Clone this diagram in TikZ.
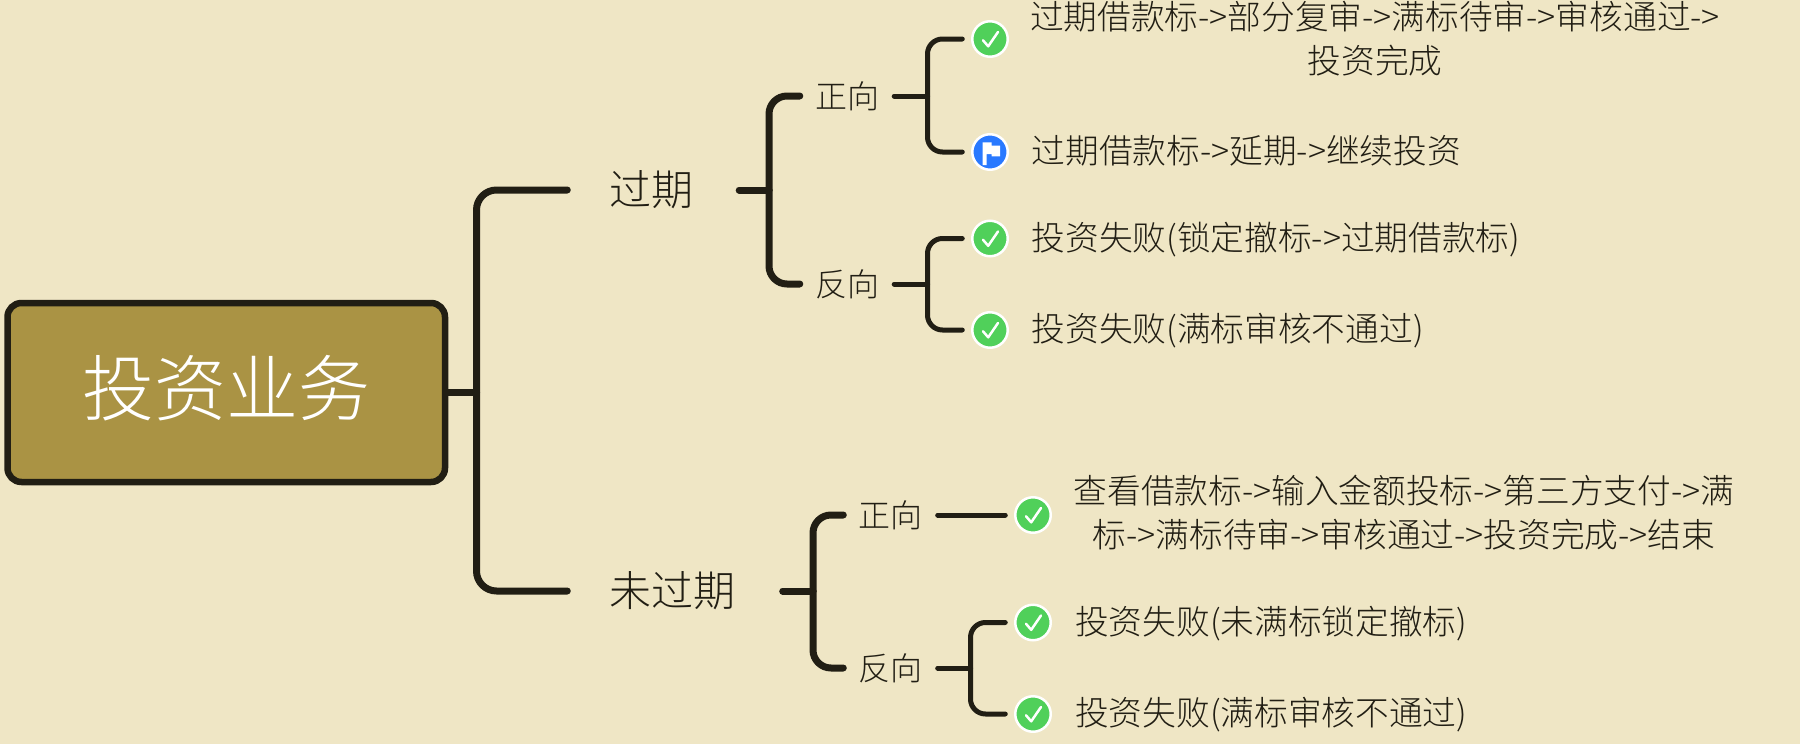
\documentclass[tikz,border=0pt]{standalone}
\usepackage{fontspec}
\setmainfont{Noto Sans CJK SC}[UprightFont=* Light]
\definecolor{paperBg}{HTML}{EFE6C5}
\definecolor{inkDark}{HTML}{211E14}
\definecolor{rootFill}{HTML}{AA9344}
\definecolor{okGreen}{HTML}{50D05A}
\definecolor{flagBlue}{HTML}{2979FF}

\begin{document}
\begin{tikzpicture}[x=1pt,y=-1pt,
        rootNode/.style = {shape=rectangle,draw=inkDark,fill=rootFill,text=white,line width=6.5pt,rounded corners=14pt,minimum width=437.5pt,minimum height=179pt,inner sep=0pt,font=\fontsize{72}{80}\selectfont},
        topicNode/.style = {text=inkDark,inner xsep=42pt,inner ysep=0pt,font=\fontsize{42}{50}\selectfont},
        sideNode/.style = {text=inkDark,inner xsep=15pt,inner ysep=0pt,font=\fontsize{32}{40}\selectfont},
        leafNode/.style = {text=inkDark,inner sep=0pt,align=center,font=\fontsize{33.7}{44}\selectfont},
        iconNode/.style = {shape=circle,draw=white,line width=2.5pt,minimum size=35.5pt,inner sep=0pt,outer sep=10pt},
        checkNode/.style = {iconNode,fill=okGreen,path picture={
            \draw[white,line width=2.5pt,line cap=round,line join=round] ([shift={(-7,1.3)}]path picture bounding box.center) -- ++(5.2,6) -- ++(9.8,-14.3);}},
        flagNode/.style = {iconNode,fill=flagBlue,path picture={
            \fill[white,shift={(path picture bounding box.center)}] (-7.3,-9.7) -- (1.7,-9.7) -- (1.7,-6.3) -- (10,-6.3) -- (10,4.3) -- (1.7,4.3) -- (1.7,2) -- (-3.3,2) -- (-3.3,13) -- (-7.3,13) -- cycle;}},
        mainLine/.style = {draw=inkDark,line width=7pt,line cap=round,rounded corners=20pt},
        midLine/.style = {draw=inkDark,line width=7pt,line cap=round,rounded corners=18pt},
        thinLine/.style = {draw=inkDark,line width=5pt,line cap=round,rounded corners=15pt}
        ]
        \useasboundingbox (0,0) rectangle (1800,744);
        \fill[paperBg] (0,0) rectangle (1800,744);

        \node[rootNode] (root) at (226.25,392.5) {\raisebox{14pt}{投资业务}};
        \node[topicNode] (overdue) at (651.5,190) {过期};
        \node[topicNode] (notDue) at (672.5,591) {未过期};

        \node[sideNode] (odForward) at (847,96) {正向};
        \node[sideNode] (odReverse) at (847,284) {反向};
        \node[sideNode] (ndForward) at (890.5,515) {正向};
        \node[sideNode] (ndReverse) at (890.5,668) {反向};

        \node[checkNode] (iconA) at (990,39) {};
        \node[flagNode] (iconB) at (990,152) {};
        \node[checkNode] (iconC) at (990,238.5) {};
        \node[checkNode] (iconD) at (990,330) {};
        \node[checkNode] (iconE) at (1033,515) {};
        \node[checkNode] (iconF) at (1033,622.5) {};
        \node[checkNode] (iconG) at (1033,714) {};

        \node[leafNode] (leafA) at (1375,39) {过期借款标->部分复审->满标待审->审核通过->\\投资完成};
        \node[leafNode,anchor=west] (leafB) at (1031.5,151) {过期借款标->延期->继续投资};
        \node[leafNode,anchor=west] (leafC) at (1031.5,240) {投资失败(锁定撤标->过期借款标)};
        \node[leafNode,anchor=west] (leafD) at (1031.5,331) {投资失败(满标审核不通过)};
        \node[leafNode] (leafE) at (1404,513) {查看借款标->输入金额投标->第三方支付->满\\标->满标待审->审核通过->投资完成->结束};
        \node[leafNode,anchor=west] (leafF) at (1075,623.5) {投资失败(未满标锁定撤标)};
        \node[leafNode,anchor=west] (leafG) at (1075,715) {投资失败(满标审核不通过)};

        \coordinate (rootFork) at (476.5,392.5);
        \coordinate (overdueFork) at (769,190);
        \coordinate (notDueFork) at (813,591);
        \coordinate (odForwardFork) at (927.5,96);
        \coordinate (odReverseFork) at (927.5,284);
        \coordinate (ndReverseFork) at (970.5,668);

        \draw[mainLine] (root.east) -- (rootFork);
        \draw[mainLine] (rootFork) |- (overdue.west);
        \draw[mainLine] (rootFork) |- (notDue.west);

        \draw[midLine,shorten <=3.5pt] (overdue.east) -- (overdueFork);
        \draw[midLine] (overdueFork) |- (odForward.west);
        \draw[midLine] (overdueFork) |- (odReverse.west);
        \draw[midLine,shorten <=5pt] (notDue.east) -- (notDueFork);
        \draw[midLine] (notDueFork) |- (ndForward.west);
        \draw[midLine] (notDueFork) |- (ndReverse.west);

        \draw[thinLine] (odForward.east) -- (odForwardFork);
        \draw[thinLine] (odForwardFork) |- (iconA.west);
        \draw[thinLine] (odForwardFork) |- (iconB.west);
        \draw[thinLine] (odReverse.east) -- (odReverseFork);
        \draw[thinLine] (odReverseFork) |- (iconC.west);
        \draw[thinLine] (odReverseFork) |- (iconD.west);
        \draw[thinLine] (ndForward.east) -- (iconE.west);
        \draw[thinLine] (ndReverse.east) -- (ndReverseFork);
        \draw[thinLine] (ndReverseFork) |- (iconF.west);
        \draw[thinLine] (ndReverseFork) |- (iconG.west);
    \end{tikzpicture}
\end{document}
